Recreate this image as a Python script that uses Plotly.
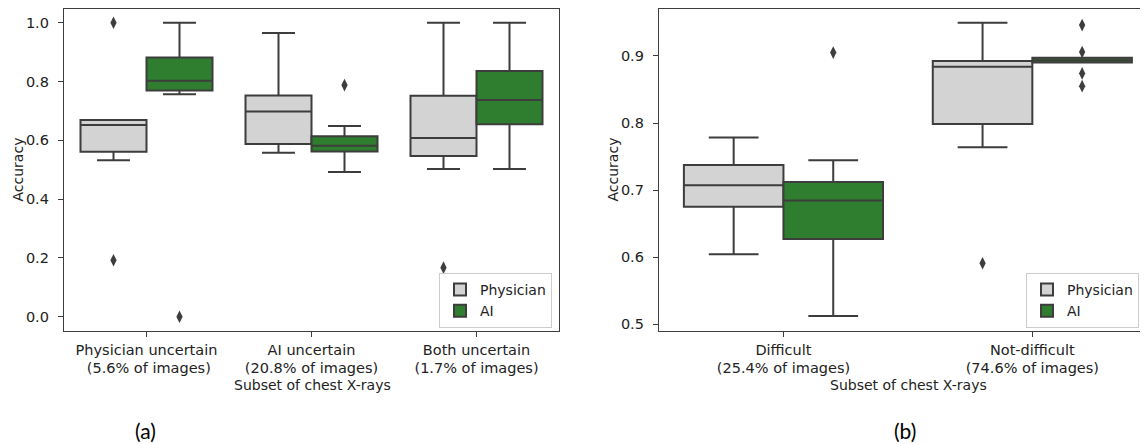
import plotly.graph_objects as go

# ---------------- data (a) ----------------
cats_a = ["Physician uncertain<br> (5.6% of images)",
          "AI uncertain<br>(20.8% of images)",
          "Both uncertain<br>(1.7% of images)"]
phys_a_low = [0.532, 0.558, 0.503]
phys_a_q1 = [0.561, 0.588, 0.547]
phys_a_med = [0.652, 0.698, 0.608]
phys_a_q3 = [0.669, 0.753, 0.752]
phys_a_high = [0.669, 0.965, 1.0]
phys_a_out_cat = [0, 0, 2]
phys_a_out_val = [1.0, 0.192, 0.167]

ai_a_low = [0.757, 0.492, 0.503]
ai_a_q1 = [0.770, 0.562, 0.655]
ai_a_med = [0.803, 0.582, 0.737]
ai_a_q3 = [0.882, 0.614, 0.836]
ai_a_high = [1.0, 0.649, 1.0]
ai_a_out_cat = [0, 1]
ai_a_out_val = [0.0, 0.788]

# ---------------- data (b) ----------------
cats_b = ["Difficult<br>(25.4% of images)",
          "Not-difficult<br>(74.6% of images)"]
phys_b_low = [0.6045, 0.764]
phys_b_q1 = [0.6754, 0.7987]
phys_b_med = [0.7073, 0.884]
phys_b_q3 = [0.7376, 0.8925]
phys_b_high = [0.7783, 0.9496]
phys_b_out_cat = [1]
phys_b_out_val = [0.591]

ai_b_low = [0.5125, 0.8902]
ai_b_q1 = [0.6273, 0.8902]
ai_b_med = [0.6844, 0.8936]
ai_b_q3 = [0.7122, 0.8972]
ai_b_high = [0.7446, 0.8972]
ai_b_out_cat = [0, 1, 1, 1, 1]
ai_b_out_val = [0.905, 0.946, 0.906, 0.874, 0.855]

series_names = ["Physician", "AI"]
colors = ["#d3d3d3", "#2f7e2f"]
LINE = "#3d3d3d"
OFF = 0.2
BW = 0.4
FONT = "DejaVu Sans"
TXT = "#222222"
FS = 14.5

fig = go.Figure()


def add_boxes(name, color, sign, low, q1, med, q3, high, out_cat, out_val,
              xa, ya, legend):
    pos = [i + sign * OFF for i in range(len(q1))]
    fig.add_trace(go.Box(
        x=pos, q1=q1, median=med, q3=q3, lowerfence=low, upperfence=high,
        name=name, width=BW, whiskerwidth=0.5, fillcolor=color,
        line=dict(color=LINE, width=2), boxpoints=False,
        xaxis=xa, yaxis=ya, legend=legend, hoverinfo="skip"))
    fig.add_trace(go.Scatter(
        x=[c + sign * OFF for c in out_cat], y=out_val, mode="markers",
        marker=dict(symbol="diamond-tall", size=9, color=LINE),
        showlegend=False, xaxis=xa, yaxis=ya, hoverinfo="skip"))


add_boxes(series_names[0], colors[0], -1, phys_a_low, phys_a_q1, phys_a_med,
          phys_a_q3, phys_a_high, phys_a_out_cat, phys_a_out_val, "x", "y", "legend")
add_boxes(series_names[1], colors[1], 1, ai_a_low, ai_a_q1, ai_a_med,
          ai_a_q3, ai_a_high, ai_a_out_cat, ai_a_out_val, "x", "y", "legend")
add_boxes(series_names[0], colors[0], -1, phys_b_low, phys_b_q1, phys_b_med,
          phys_b_q3, phys_b_high, phys_b_out_cat, phys_b_out_val, "x2", "y2", "legend2")
add_boxes(series_names[1], colors[1], 1, ai_b_low, ai_b_q1, ai_b_med,
          ai_b_q3, ai_b_high, ai_b_out_cat, ai_b_out_val, "x2", "y2", "legend2")

# page body has an 8px margin: figure coordinates = window coordinates - 8
W, H = 1140, 436
ydom = [(H - 323) / H, (H - 1) / H]
tickfont = dict(family=FONT, size=FS, color=TXT)
axcommon = dict(showline=True, linecolor=LINE, linewidth=1.3, ticks="outside",
                ticklen=5, tickcolor=LINE, tickwidth=1.3, showgrid=False,
                zeroline=False, tickfont=tickfont)

legcommon = dict(font=dict(family=FONT, size=14, color=TXT),
                 bgcolor="rgba(255,255,255,0.85)", bordercolor="#cccccc",
                 borderwidth=1, yanchor="bottom", traceorder="normal",
                 itemwidth=30, tracegroupgap=0)


def ann(text, x, y, size=14, family=FONT, angle=0, color=TXT):
    return dict(text=text, x=x / W, y=(H - y) / H, xref="paper", yref="paper",
                xanchor="center", yanchor="middle", textangle=angle,
                showarrow=False, font=dict(family=family, size=size, color=color))


fig.update_layout(
    width=W, height=H, margin=dict(l=0, r=0, t=0, b=0, autoexpand=False),
    paper_bgcolor="white", plot_bgcolor="white", boxmode="overlay",
    xaxis=dict(domain=[56 / W, 551 / W], range=[-0.5, 2.5],
               tickvals=[0, 1, 2], ticktext=cats_a, mirror=True, **axcommon),
    yaxis=dict(domain=ydom, range=[-0.0486, 1.047], tickvals=[0, 0.2, 0.4, 0.6, 0.8, 1.0],
               tickformat=".1f", mirror=True, ticklabelstandoff=6, **axcommon),
    xaxis2=dict(domain=[651 / W, 1.0], range=[-0.5, 1.4647], anchor="y2",
                tickvals=[0, 1], ticktext=cats_b, mirror=True, **axcommon),
    yaxis2=dict(domain=ydom, range=[0.49, 0.970], anchor="x2",
                tickvals=[0.5, 0.6, 0.7, 0.8, 0.9], tickformat=".1f",
                ticklabelstandoff=6, **axcommon),
    legend=dict(x=544 / W, xanchor="right", y=(H - 320) / H, **legcommon),
    legend2=dict(x=1018 / W, xanchor="left", y=(H - 320) / H, **legcommon),
    annotations=[
        ann("Accuracy", 9, 161.5, angle=-90),
        ann("Accuracy", 604, 161.5, angle=-90),
        ann("Subset of chest X-rays", 304, 377),
        ann("Subset of chest X-rays", 900, 377),
        ann("(a)", 137, 422, size=21, family="Lato", color="#000000"),
        ann("(b)", 897, 422, size=21, family="Lato", color="#000000"),
    ],
)

fig.write_html("out.html")
